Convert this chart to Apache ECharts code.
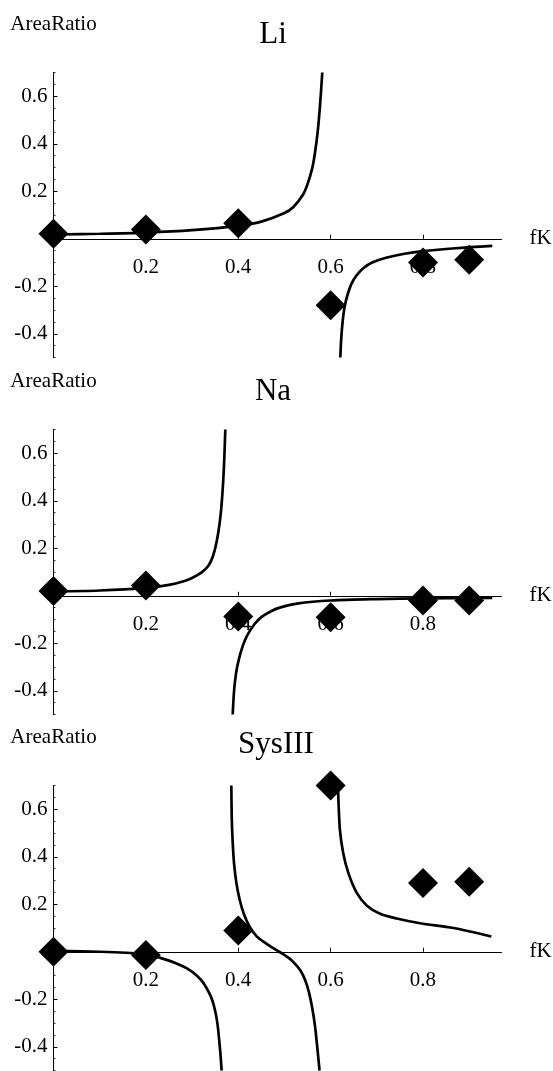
<!DOCTYPE html>
<html>
<head>
<meta charset="utf-8">
<script src="https://cdn.jsdelivr.net/npm/echarts@6/dist/echarts.min.js"></script>
<style>
  html, body { margin: 0; padding: 0; background: #fff; }
  #chart { width: 553px; height: 1071px; }
</style>
</head>
<body>
<div id="chart"></div>
<script>
// Panel titles, one panel per system
const panelNames = ['Li', 'Na', 'SysIII'];

// Measured area ratios at each K fraction
const fK = [0, 0.2, 0.4, 0.6, 0.8, 0.9];
const liRatio = [0.021, 0.039, 0.065, -0.28, -0.10, -0.088];
const naRatio = [0.02, 0.043, -0.087, -0.09, -0.02, -0.02];
const sysRatio = [0.0, -0.014, 0.09, 0.70, 0.29, 0.295];

// Model curves, [fK, AreaRatio], one array per branch between poles
const liCurveA = [[0, 0.018], [0.1, 0.021], [0.2, 0.026], [0.3, 0.036], [0.4, 0.054], [0.45, 0.072],
  [0.5, 0.108], [0.52, 0.135], [0.54, 0.185], [0.55, 0.23], [0.56, 0.295], [0.566, 0.36],
  [0.572, 0.45], [0.577, 0.56], [0.582, 0.7]];
const liCurveB = [[0.621, -0.5], [0.623, -0.42], [0.626, -0.35], [0.63, -0.29], [0.636, -0.24],
  [0.645, -0.19], [0.656, -0.155], [0.67, -0.125], [0.69, -0.1], [0.72, -0.08], [0.76, -0.063],
  [0.8, -0.052], [0.87, -0.04], [0.95, -0.03]];

const naCurveA = [[0, 0.018], [0.1, 0.022], [0.2, 0.033], [0.25, 0.046], [0.28, 0.06], [0.3, 0.075],
  [0.32, 0.097], [0.335, 0.125], [0.345, 0.165], [0.353, 0.225], [0.36, 0.31], [0.365, 0.41],
  [0.369, 0.54], [0.372, 0.7]];
const naCurveB = [[0.388, -0.5], [0.391, -0.4], [0.395, -0.33], [0.401, -0.27], [0.41, -0.21],
  [0.42, -0.165], [0.435, -0.12], [0.45, -0.09], [0.47, -0.066], [0.49, -0.05], [0.53, -0.032],
  [0.6, -0.02], [0.7, -0.014], [0.8, -0.011], [0.95, -0.009]];

const sysCurveA = [[0, 0.004], [0.1, 0.0], [0.2, -0.01], [0.238, -0.03], [0.265, -0.048],
  [0.289, -0.07], [0.31, -0.1], [0.325, -0.133], [0.343, -0.2], [0.354, -0.29], [0.361, -0.42],
  [0.364, -0.5]];
const sysCurveB = [[0.385, 0.7], [0.386, 0.56], [0.388, 0.46], [0.391, 0.37], [0.396, 0.29],
  [0.403, 0.22], [0.412, 0.16], [0.424, 0.108], [0.44, 0.065], [0.46, 0.035], [0.48, 0.01],
  [0.497, -0.01], [0.512, -0.03], [0.525, -0.055], [0.535, -0.08], [0.545, -0.12], [0.553, -0.17],
  [0.56, -0.235], [0.566, -0.31], [0.571, -0.4], [0.576, -0.5]];
const sysCurveC = [[0.616, 0.7], [0.62, 0.516], [0.627, 0.418], [0.638, 0.334], [0.656, 0.25],
  [0.678, 0.195], [0.707, 0.16], [0.743, 0.14], [0.794, 0.12], [0.866, 0.1], [0.948, 0.064]];

// Tick labels
const xTickValues = [0.2, 0.4, 0.6, 0.8];
const yTickValues = [-0.4, -0.2, 0.2, 0.4, 0.6];

const panels = [
  { name: panelNames[0], points: liRatio, curves: [liCurveA, liCurveB] },
  { name: panelNames[1], points: naRatio, curves: [naCurveA, naCurveB] },
  { name: panelNames[2], points: sysRatio, curves: [sysCurveA, sysCurveB, sysCurveC] }
];

const SERIF = '"Liberation Serif", "Times New Roman", Times, serif';
const panelTop = [72.5, 429.5, 785.5];
const panelHeight = 285;
const yMin = -0.5, yMax = 0.7;
// distance from the bottom of each plot up to the zero line
const zeroLift = panelHeight * (0 - yMin) / (yMax - yMin);
const titlePos = [[273, 35], [273, 392], [276, 745]];

// small ticks every 0.05 along the value axis
const yMinorValues = [];
for (let k = -10; k <= 14; k++) yMinorValues.push(Math.round(k * 5) / 100);

const grid = [], xAxis = [], yAxis = [], series = [], graphic = [];

panels.forEach((p, i) => {
  grid.push({ left: 53.5, top: panelTop[i], width: 448, height: panelHeight });

  xAxis.push({
    type: 'value', gridIndex: i, min: 0, max: 0.97, interval: 0.2,
    position: 'bottom', offset: -zeroLift,
    axisLine: { onZero: false, lineStyle: { color: '#000', width: 1 } },
    axisTick: { inside: true, length: 4, customValues: xTickValues, lineStyle: { color: '#000' } },
    axisLabel: { customValues: xTickValues, margin: 18, color: '#000', fontFamily: SERIF, fontSize: 21 },
    splitLine: { show: false },
    name: 'fK', nameLocation: 'end', nameGap: 28,
    nameTextStyle: { color: '#000', fontFamily: SERIF, fontSize: 21 }
  });

  yAxis.push({
    type: 'value', gridIndex: i, position: 'left', min: yMin, max: yMax, interval: 0.1,
    axisLine: { show: true, onZero: false, lineStyle: { color: '#000', width: 1 } },
    axisTick: { show: true, inside: true, length: 4, customValues: yTickValues, lineStyle: { color: '#000' } },
    axisLabel: { customValues: yTickValues, margin: 6, color: '#000', fontFamily: SERIF, fontSize: 21 },
    splitLine: { show: false },
    name: 'AreaRatio', nameLocation: 'end', nameGap: 38,
    nameTextStyle: { color: '#000', fontFamily: SERIF, fontSize: 21 }
  });
  yAxis.push({
    type: 'value', gridIndex: i, position: 'left', min: yMin, max: yMax, interval: 0.1,
    axisLine: { show: false, onZero: false },
    axisTick: { show: true, inside: true, length: 2, customValues: yMinorValues, lineStyle: { color: '#000', width: 0.8 } },
    axisLabel: { show: false },
    splitLine: { show: false }
  });

  p.curves.forEach(c => {
    series.push({
      type: 'line', xAxisIndex: i, yAxisIndex: i * 2, data: c,
      showSymbol: false, smooth: 0.3, clip: true, z: 2,
      lineStyle: { color: '#000', width: 2.7 }
    });
  });

  series.push({
    type: 'scatter', xAxisIndex: i, yAxisIndex: i * 2,
    data: fK.map((x, k) => [x, p.points[k]]),
    symbol: 'diamond', symbolSize: 30, clip: false, z: 3,
    itemStyle: { color: '#000', opacity: 1 }
  });

  graphic.push({
    type: 'text', x: titlePos[i][0], y: titlePos[i][1],
    style: { text: p.name, font: '31px ' + SERIF, fill: '#000', align: 'center', verticalAlign: 'middle' }
  });
});

const chart = echarts.init(document.getElementById('chart'), null, { renderer: 'canvas' });
chart.setOption({
  animation: false,
  backgroundColor: '#fff',
  grid, xAxis, yAxis, series, graphic
});
</script>
</body>
</html>
